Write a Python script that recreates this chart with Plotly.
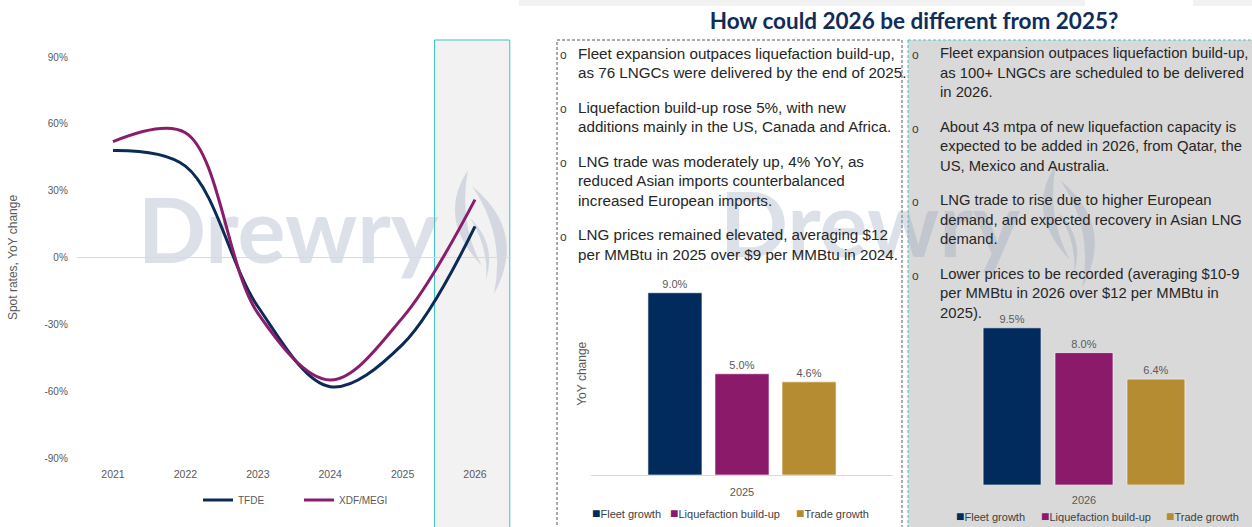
import plotly.graph_objects as go

W, H = 1252, 527

# ---------------- data ----------------
years = [2021, 2022, 2023, 2024, 2025, 2026]
year_labels = ["2021", "2022", "2023", "2024", "2025", "2026"]
tfde_yoy = [48, 41, -22, -58, -39, 14]
xdf_megi_yoy = [52, 56, -25, -55, -27, 26]
y_ticks = [-90, -60, -30, 0, 30, 60, 90]
y_tick_labels = ["-90%", "-60%", "-30%", "0%", "30%", "60%", "90%"]

bar_years = ["2025", "2026"]
bar_series = ["Fleet growth", "Liquefaction build-up", "Trade growth"]
bar_colors = ["#002b5c", "#8b1a6b", "#b68c32"]
growth_2025 = [9.0, 5.0, 4.6]
growth_2026 = [9.5, 8.0, 6.4]

title_text = "How could 2026 be different from 2025?"
bullets_2025 = [
    ["Fleet expansion outpaces liquefaction build-up,",
     "as 76 LNGCs were delivered by the end of 2025."],
    ["Liquefaction build-up rose 5%, with new",
     "additions mainly in the US, Canada and Africa."],
    ["LNG trade was moderately up, 4% YoY, as",
     "reduced Asian imports counterbalanced",
     "increased European imports."],
    ["LNG prices remained elevated, averaging $12",
     "per MMBtu in 2025 over $9 per MMBtu in 2024."],
]
bullets_2026 = [
    ["Fleet expansion outpaces liquefaction build-up,",
     "as 100+ LNGCs are scheduled to be delivered",
     "in 2026."],
    ["About 43 mtpa of new liquefaction capacity is",
     "expected to be added in 2026, from Qatar, the",
     "US, Mexico and Australia."],
    ["LNG trade to rise due to higher European",
     "demand, and expected recovery in Asian LNG",
     "demand."],
    ["Lower prices to be recorded (averaging $10-9",
     "per MMBtu in 2026 over $12 per MMBtu in",
     "2025)."],
]

# ---------------- helpers ----------------
def px(x):
    return x / W


def py(y):
    return 1 - y / H


NAVY = "#0b2a56"
PURPLE = "#8b1c6d"
GREY_TXT = "#595959"
TEAL = "#3cc3c3"
WM = "rgba(150,165,188,0.33)"
BODY_FONT = "Liberation Sans, Arial, sans-serif"
SANS = "Liberation Sans, Arial, sans-serif"

fig = go.Figure()

# watermark (full-figure pixel overlay axes x/y)
fig.add_trace(go.Scatter(
    x=[288, 870], y=[240, 234], mode="text", text=["Drewry", "Drewry"],
    textfont=dict(family="Lato, Liberation Sans, sans-serif", size=90,
                  color=WM, weight="bold"),
    xaxis="x", yaxis="y", showlegend=False, hoverinfo="skip", cliponaxis=False,
))

# line chart
fig.add_trace(go.Scatter(
    x=years, y=tfde_yoy, name="TFDE", mode="lines",
    line=dict(color=NAVY, width=3, shape="spline", smoothing=1.0),
    xaxis="x2", yaxis="y2", legend="legend",
))
fig.add_trace(go.Scatter(
    x=years, y=xdf_megi_yoy, name="XDF/MEGI", mode="lines",
    line=dict(color=PURPLE, width=3, shape="spline", smoothing=1.0),
    xaxis="x2", yaxis="y2", legend="legend",
))

# bar charts
for vals, ax, ay, yr in [(growth_2025, "x3", "y3", bar_years[0]),
                         (growth_2026, "x4", "y4", bar_years[1])]:
    for name, col, v in zip(bar_series, bar_colors, vals):
        fig.add_trace(go.Bar(
            x=[yr], y=[v], name=name,
            marker=dict(color=col, line=dict(color="rgba(255,255,255,0.6)", width=1)),
            text=[f"{v:.1f}%"], textposition="outside",
            textfont=dict(family=SANS, size=11, color=GREY_TXT),
            cliponaxis=False, xaxis=ax, yaxis=ay, showlegend=False,
        ))

# ---------------- shapes ----------------
shapes = []
# top light bands
shapes.append(dict(type="rect", xref="x", yref="y", x0=519, x1=1085, y0=0, y1=6,
                   fillcolor="#f2f2f2", line=dict(width=0), layer="below"))
shapes.append(dict(type="rect", xref="x", yref="y", x0=1193, x1=1260, y0=0, y1=6,
                   fillcolor="#f2f2f2", line=dict(width=0), layer="below"))
# forecast-year highlight on the line chart
shapes.append(dict(type="rect", xref="x2", yref="paper", x0=2025.44, x1=2026.48,
                   y0=-0.05, y1=py(40), fillcolor="#f2f2f2",
                   line=dict(color=TEAL, width=1), layer="below"))
# right panel
shapes.append(dict(type="rect", xref="x", yref="y", x0=908, x1=1262, y0=40, y1=545,
                   fillcolor="#d9d9d9", line=dict(color=TEAL, width=1, dash="3px,2px"),
                   layer="below"))
# middle dashed box
shapes.append(dict(type="rect", xref="x", yref="y", x0=557, x1=902, y0=40, y1=545,
                   fillcolor="rgba(0,0,0,0)", line=dict(color="#555555", width=1, dash="3px,2px"),
                   layer="below"))
# flame marks of the watermark
flame_paths = [
    "M 468,170 Q 436,218 482,266 Q 458,222 468,170 Z",
    "M 472,186 Q 528,232 494,294 Q 506,236 472,186 Z",
    "M 470,218 Q 497,244 486,280 Q 489,248 470,218 Z",
]
for dx, dy in [(0, 0), (588, -6)]:
    for p in flame_paths:
        out = []
        for t in p.split():
            if "," in t:
                a, b = t.split(",")
                out.append(f"{float(a) + dx},{float(b) + dy}")
            else:
                out.append(t)
        shapes.append(dict(type="path", xref="x", yref="y", path=" ".join(out),
                           fillcolor=WM, line=dict(width=0), layer="below"))

# ---------------- annotations ----------------
ann = []


def add_bullets(bullets, x_dot, x_text, size):
    idx = 0
    for bi, lines in enumerate(bullets):
        y0 = 53 + idx * 19.6 + bi * 14.8
        ann.append(dict(xref="x", yref="y", x=x_dot, y=y0 + 2, text="o", showarrow=False,
                        xanchor="center", yanchor="middle",
                        font=dict(family=SANS, size=12, color="#404040")))
        for line in lines:
            y = 53 + idx * 19.6 + bi * 14.8
            ann.append(dict(xref="x", yref="y", x=x_text, y=y, text=line, showarrow=False,
                            xanchor="left", yanchor="middle",
                            font=dict(family=BODY_FONT, size=size, color="#262626")))
            idx += 1


add_bullets(bullets_2025, 563, 576, 15.2)
add_bullets(bullets_2026, 915, 938, 14.8)

# bar legends (colour key)
for (xs, yk) in [([590, 668, 794], 513), ([954, 1039, 1164], 516)]:
    for xk, name, col in zip(xs, bar_series, bar_colors):
        ann.append(dict(xref="x", yref="y", x=xk, y=yk,
                        text=f"<span style='color:{col};font-size:14px'>■</span>{name}",
                        showarrow=False, xanchor="left", yanchor="middle",
                        font=dict(family=SANS, size=11, color="#404040")))

fig.update_layout(
    width=W, height=H, autosize=False, template="none",
    margin=dict(l=0, r=0, t=0, b=0, pad=0),
    paper_bgcolor="white", plot_bgcolor="rgba(0,0,0,0)",
    font=dict(family=SANS, color=GREY_TXT),
    title=dict(text=title_text, x=px(914), y=py(21), xanchor="center", yanchor="middle",
               font=dict(family="Lato, Liberation Sans, sans-serif", size=22.5,
                         color="#0f2d5a", weight="bold")),
    barmode="group", bargap=0.334, bargroupgap=0.194,
    shapes=shapes, annotations=ann,
    legend=dict(orientation="h", x=px(198), y=py(500), xanchor="left", yanchor="middle",
                font=dict(family=SANS, size=10, color=GREY_TXT), entrywidth=56,
                bgcolor="rgba(0,0,0,0)", itemwidth=30),
    xaxis=dict(domain=[0, 1], range=[0, W], visible=False, fixedrange=True, automargin=False),
    yaxis=dict(domain=[0, 1], range=[H, 0], visible=False, fixedrange=True, automargin=False),
    xaxis2=dict(domain=[px(76.8), px(511.2)], range=[2020.5, 2026.5], anchor="y2",
                tickvals=years, ticktext=year_labels, showgrid=False, zeroline=False,
                showline=False, ticks="", ticklabelstandoff=8, automargin=False,
                tickfont=dict(family=SANS, size=10.5, color=GREY_TXT)),
    yaxis2=dict(domain=[py(458), py(57)], range=[-90, 90], anchor="x2",
                tickvals=y_ticks, ticktext=y_tick_labels, showgrid=False,
                zeroline=True, zerolinecolor="#d9d9d9", zerolinewidth=1,
                showline=False, ticks="", ticklabelstandoff=8, automargin=False,
                tickfont=dict(family=SANS, size=10, color=GREY_TXT),
                title=dict(text="Spot rates, YoY change", standoff=24,
                           font=dict(family=SANS, size=12, color=GREY_TXT))),
    xaxis3=dict(domain=[px(591), px(893)], type="category", anchor="y3",
                showline=True, linecolor="#d9d9d9", linewidth=1, ticks="",
                showgrid=False, zeroline=False, ticklabelstandoff=7, automargin=False,
                tickfont=dict(family=SANS, size=11, color=GREY_TXT)),
    yaxis3=dict(domain=[py(475), py(272.5)], range=[0, 10], anchor="x3",
                showticklabels=False, showgrid=False, zeroline=False, showline=False,
                ticks="", automargin=False,
                title=dict(text="YoY change", standoff=0,
                           font=dict(family=SANS, size=12, color=GREY_TXT))),
    xaxis4=dict(domain=[px(922), px(1246)], type="category", anchor="y4",
                showline=False, ticks="", showgrid=False, zeroline=False,
                ticklabelstandoff=7, automargin=False,
                tickfont=dict(family=SANS, size=11, color=GREY_TXT)),
    yaxis4=dict(domain=[py(485), py(303)], range=[0, 11], anchor="x4",
                showticklabels=False, showgrid=False, zeroline=False, showline=False,
                ticks="", automargin=False),
)

fig.write_html("out.html")
